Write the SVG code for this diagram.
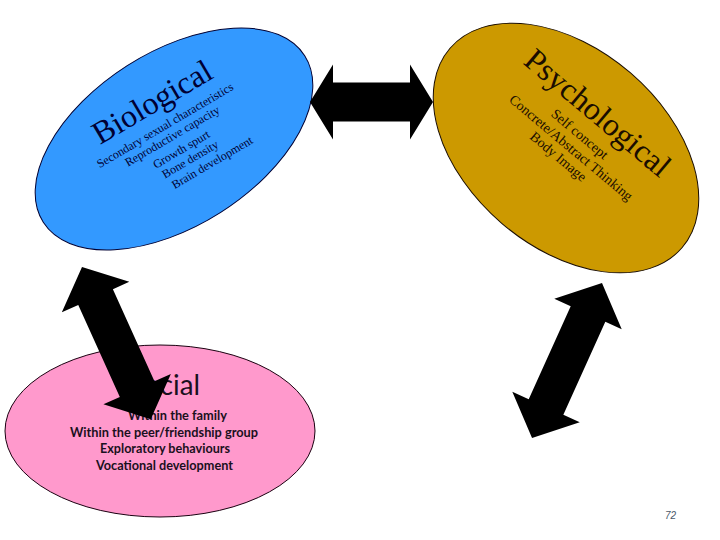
<svg xmlns="http://www.w3.org/2000/svg" width="720" height="540" viewBox="0 0 720 540">
<style>
.bio-t{font-family:"Liberation Serif","Times New Roman",serif;fill:#000033}
.psy-t{font-family:"Liberation Serif","Times New Roman",serif;fill:#1a0d00}
.soc-t{font-family:Lato,"Open Sans","Liberation Sans",sans-serif;fill:#1a1020}
.arrow{fill:#000}
.shape{stroke-width:1}
</style>
<rect width="720" height="540" fill="#fff"/>
<g id="biological">
<ellipse class="shape" cx="174" cy="139" rx="155" ry="87" transform="rotate(-32.5 174 139)" fill="#3399FF" stroke="#000033"/>
<g transform="translate(100,145) rotate(-30.5)">
<text class="bio-t" x="0" y="0" font-size="32">Biological</text>
<text class="bio-t" x="-12" y="20" font-size="12">Secondary sexual characteristics</text>
<text class="bio-t" x="13" y="33" font-size="12">Reproductive capacity</text>
<text class="bio-t" x="36" y="49" font-size="12">Growth spurt</text>
<text class="bio-t" x="39" y="62" font-size="12">Bone density</text>
<text class="bio-t" x="42" y="76" font-size="12">Brain development</text>
</g>
</g>
<g id="psychological">
<ellipse class="shape" cx="566" cy="148" rx="153" ry="99" transform="rotate(40.7 566 148)" fill="#CC9900" stroke="#1a0d00"/>
<g transform="translate(522,63) rotate(40)" text-anchor="middle">
<text class="psy-t" x="90" y="0" font-size="32">Psychological</text>
<text class="psy-t" x="90" y="22" font-size="14">Self concept</text>
<text class="psy-t" x="92" y="38" font-size="14">Concrete/Abstract Thinking</text>
<text class="psy-t" x="88" y="53" font-size="14">Body Image</text>
</g>
</g>
<g id="social">
<ellipse class="shape" cx="160" cy="431" rx="155" ry="86" fill="#FF99CC" stroke="#1a0010"/>
<text class="soc-t" x="129" y="395" font-size="28" textLength="71" lengthAdjust="spacingAndGlyphs">Social</text>
<text class="soc-t" x="128" y="420" font-size="13" font-weight="bold" textLength="99" lengthAdjust="spacingAndGlyphs">Within the family</text>
<text class="soc-t" x="70" y="437" font-size="13" font-weight="bold" textLength="188" lengthAdjust="spacingAndGlyphs">Within the peer/friendship group</text>
<text class="soc-t" x="100" y="453" font-size="13" font-weight="bold" textLength="130" lengthAdjust="spacingAndGlyphs">Exploratory behaviours</text>
<text class="soc-t" x="96" y="470" font-size="13" font-weight="bold" textLength="137" lengthAdjust="spacingAndGlyphs">Vocational development</text>
</g>
<g id="connectors">
<polygon class="arrow" points="310,102 333,64.5 333,82.5 410,82.5 410,64.5 433,102 410,139.5 410,121.5 333,121.5 333,139.5"/>
<polygon class="arrow" transform="translate(82,267) rotate(65.7)" points="0,0 33,-37 33,-19 134,-19 134,-37 167,0 134,37 134,19 33,19 33,37"/>
<polygon class="arrow" transform="translate(602,283) rotate(114.3)" points="0,0 34,-37 34,-19 136,-19 136,-37 170,0 136,37 136,19 34,19 34,37"/>
</g>
<text x="665" y="519" font-family="Liberation Sans, Arial, sans-serif" font-size="10" font-style="italic" fill="#4a5a6a">72</text>
</svg>
